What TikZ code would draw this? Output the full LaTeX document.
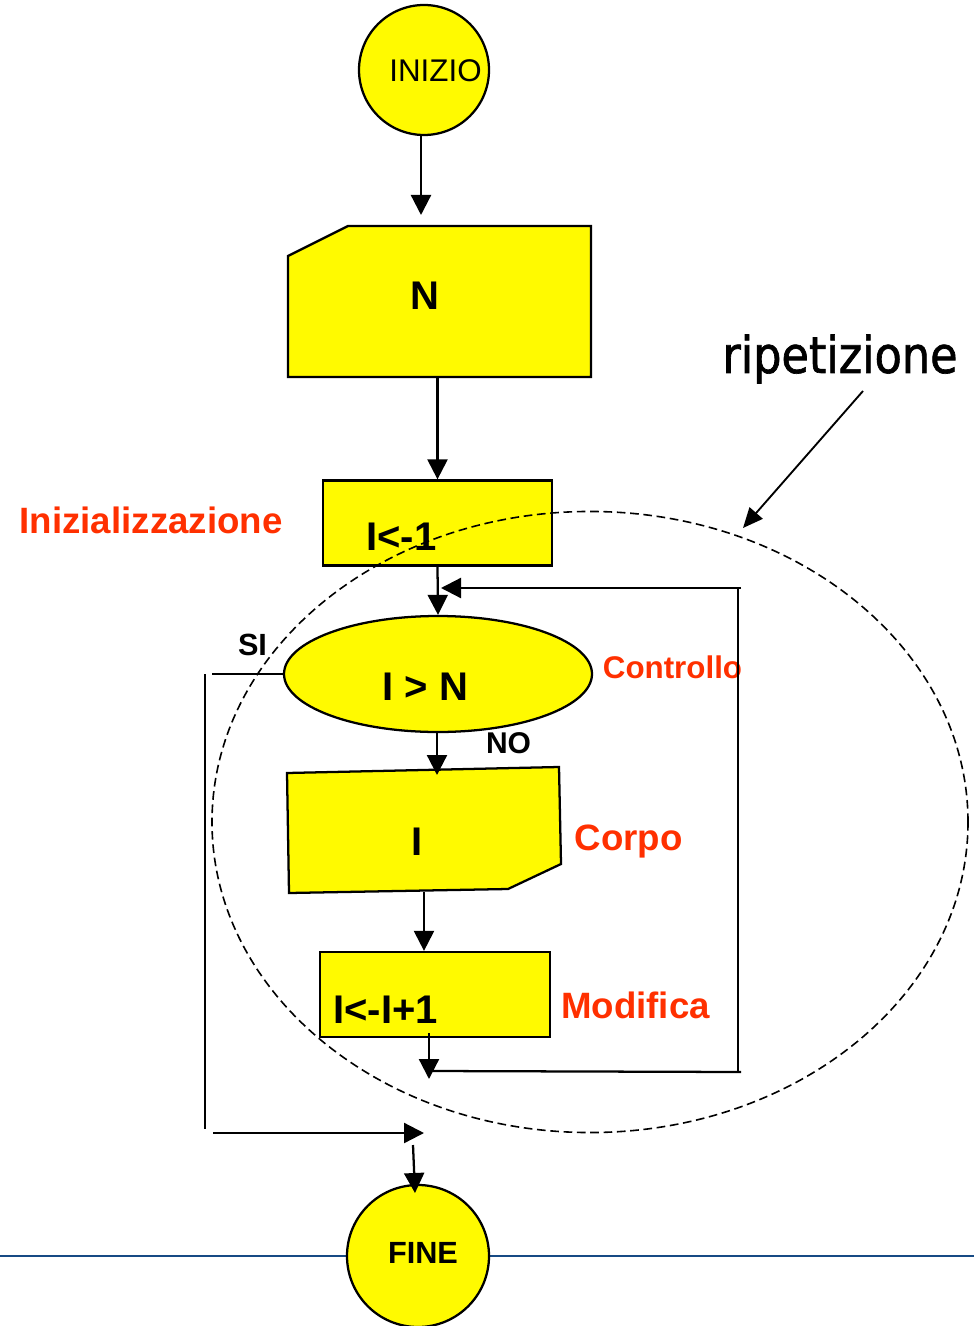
\documentclass[tikz,border=0pt]{standalone}
\usepackage{fontspec}
\setmainfont{Liberation Sans}
\newfontfamily\ripfont[FakeStretch=0.88,FakeBold=1.3]{DejaVu Sans}
\usetikzlibrary{arrows.meta,calc,shapes.geometric}

\definecolor{fillyellow}{RGB}{255,250,0}
\definecolor{labelred}{RGB}{255,48,0}
\definecolor{rulerblue}{RGB}{22,74,132}

\tikzset{
  shapebox/.style={draw=black, fill=fillyellow, line width=1.7pt, line join=miter},
  ghost/.style={inner sep=0pt, outer sep=0pt},
  arr/.style={line width=1.7pt, -{Triangle[length=15pt,width=15pt]}},
  plain/.style={line width=1.7pt},
  boxtext/.style={anchor=base, inner sep=0pt, font=\bfseries\fontsize{30}{36}\selectfont},
  redlabel/.style={anchor=base, inner sep=0pt, text=labelred, font=\bfseries\fontsize{27.5}{33}\selectfont},
  blacklabel/.style={anchor=base, inner sep=0pt, font=\bfseries\fontsize{23}{28}\selectfont},
  loopzone/.style={draw=black, line width=1.2pt, dash pattern=on 6.5pt off 3.5pt},
}

\begin{document}
\begin{tikzpicture}[x=0.75pt,y=-0.75pt]
\useasboundingbox (0,0) rectangle (974,1326);

% horizontal rule behind the end terminal
\coordinate (ruleL) at (0,1256);
\coordinate (ruleR) at (974,1256);
\draw[rulerblue, line width=2.2pt] (ruleL) -- (ruleR);

% start terminal
\node[shapebox, circle, minimum size=97.5pt, inner sep=0pt] (start) at (424,70) {};
\node[anchor=base, inner sep=0pt, font=\fontsize{23.5}{28}\selectfont] (startlbl) at (435.5,82) {INIZIO};

% input of N (card shape)
\node[ghost, minimum width=227.25pt, minimum height=113.25pt] (readN) at (439.5,301.5) {};
\draw[shapebox] ($(readN.north west)+(0,30)$) -- ($(readN.north west)+(60,0)$)
  -- (readN.north east) -- (readN.south east) -- (readN.south west) -- cycle;
\node[boxtext] (readNlbl) at (424.5,310) {N};

% initialisation
\node[shapebox, rectangle, minimum width=171.75pt, minimum height=63.75pt, inner sep=0pt] (init) at (437.5,523) {};
\node[boxtext] (initlbl) at (401.5,550) {I<-1};
\node[redlabel] (initnote) at (151,533) {Inizializzazione};

% loop test
\node[shapebox, ellipse, minimum width=231pt, minimum height=87pt, inner sep=0pt] (cond) at (438,674) {};
\node[boxtext] (condlbl) at (425.5,700) {I > N};
\node[redlabel, font=\bfseries\fontsize{23.5}{28}\selectfont] (condnote) at (672.5,678) {Controllo};
\node[blacklabel] (yes) at (252.5,655) {SI};
\node[blacklabel, font=\bfseries\fontsize{22.5}{27}\selectfont] (no) at (508.5,753) {NO};

% loop body (output card)
\coordinate (bodyTL) at (287,773);
\coordinate (bodyTR) at (559,767);
\coordinate (bodyR) at (561,864);
\coordinate (bodyBR) at (508,889);
\coordinate (bodyBL) at (289,893);
\draw[shapebox] (bodyTL) -- (bodyTR) -- (bodyR) -- (bodyBR) -- (bodyBL) -- cycle;
\node[boxtext] (bodylbl) at (417,855) {I};
\node[redlabel] (bodynote) at (628.5,850) {Corpo};

% update
\node[shapebox, rectangle, minimum width=172.5pt, minimum height=63.75pt, inner sep=0pt] (update) at (435,994.5) {};
\node[boxtext] (updatelbl) at (385.5,1023) {I<-I+1};
\node[redlabel] (updatenote) at (635.5,1018) {Modifica};

% end terminal
\node[shapebox, circle, minimum size=106.5pt, inner sep=0pt] (fine) at (418,1256) {};
\node[blacklabel] (finelbl) at (423,1263) {FINE};

% main flow
\coordinate (startOut) at (421,135);
\coordinate (readIn) at (421,215);
\draw[arr] (startOut) -- (readIn);
\draw[arr] (readN.south -| init.north) -- (init.north);
\draw[arr] (init.south) -- (cond.north);
\coordinate (bodyIn) at (437,775);
\draw[arr] (cond.south -| bodyIn) -- (bodyIn);
\coordinate (bodyOut) at (424,892);
\draw[arr] (bodyOut) -- (bodyOut |- update.north);

% back edge of the loop
\coordinate (updOut) at (429,1033);
\coordinate (backIn) at (429,1079);
\draw[arr] (updOut) -- (backIn);
\coordinate (backBL) at (431,1071);
\coordinate (backBR) at (741,1072);
\coordinate (backR) at (738,1072);
\coordinate (backRT) at (738,588);
\coordinate (backTR) at (741,588);
\coordinate (backEnd) at (441,588);
\draw[plain] (backBL) -- (backBR);
\draw[plain] (backR) -- (backRT);
\draw[arr] (backTR) -- (backEnd);

% exit branch
\coordinate (exitH) at (212,674);
\coordinate (exitVT) at (205,674);
\coordinate (exitVB) at (205,1129);
\coordinate (exitB) at (213,1133);
\coordinate (exitBE) at (424,1133);
\draw[plain] (cond.west) -- (exitH);
\draw[plain] (exitVT) -- (exitVB);
\draw[arr] (exitB) -- (exitBE);
\coordinate (fineIn) at (413,1145);
\coordinate (fineTop) at (415,1193);
\draw[arr] (fineIn) -- (fineTop);

% repetition zone and its caption
\draw[loopzone] (590,822) ellipse [x radius=283.5pt, y radius=232.9pt];
\node[anchor=base, inner sep=0pt, font=\ripfont\fontsize{38}{44}\selectfont] (rip) at (840,373) {ripetizione};
\coordinate (ripFrom) at (863,391);
\coordinate (ripTo) at (743,528);
\draw[line width=1.4pt, -{Triangle[length=15pt,width=13pt]}] (ripFrom) -- (ripTo);
\end{tikzpicture}
\end{document}
